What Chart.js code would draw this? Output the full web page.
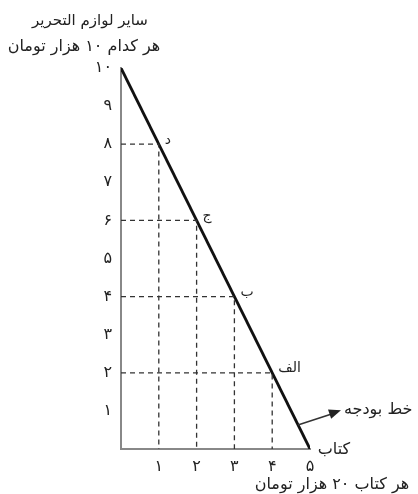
<!DOCTYPE html>
<html>
<head>
<meta charset="utf-8">
<script src="https://cdn.jsdelivr.net/npm/chart.js@4/dist/chart.umd.min.js"></script>
<style>
html,body{margin:0;padding:0;background:#fff;}
canvas{display:block;}
</style>
</head>
<body>
<canvas id="c" width="418" height="494"></canvas>
<script>
// ---- data ----
const bookQty = [1, 2, 3, 4];            // x of marked points (books)
const stationeryQty = [8, 6, 4, 2];      // y of marked points (stationery)
const pointNames = ['د', 'ج', 'ب', 'الف'];
const budgetX = [0, 5];
const budgetY = [10, 0];
const xTicks = [1, 2, 3, 4, 5];
const yTicks = [1, 2, 3, 4, 5, 6, 7, 8, 9, 10];
const persianDigits = ['۰','۱','۲','۳','۴','۵','۶','۷','۸','۹'];
const yTitle1 = 'سایر لوازم التحریر';
const yTitle2 = 'هر کدام ۱۰ هزار تومان';
const xTitle1 = 'کتاب';
const xTitle2 = 'هر کتاب ۲۰ هزار تومان';
const arrowLabel = 'خط بودجه';
const arrowFrom = {x: 4.68, y: 0.63};
const arrowTo = {x: 5.82, y: 1.02};

const toFa = n => String(n).split('').map(d => persianDigits[+d] ?? d).join('');
const FONT = '"DejaVu Sans", sans-serif';

const datasets = [];
bookQty.forEach((bx, i) => {
  datasets.push({
    data: [{x: 0, y: stationeryQty[i]}, {x: bx, y: stationeryQty[i]}, {x: bx, y: 0}],
    showLine: true, borderColor: '#333', borderWidth: 1.3, borderDash: [5, 4],
    pointRadius: 0, fill: false
  });
});
datasets.push({
  data: budgetX.map((x, i) => ({x, y: budgetY[i]})),
  showLine: true, borderColor: '#111', borderWidth: 2.8, pointRadius: 0, fill: false
});

const annot = {
  id: 'annot',
  afterDraw(chart) {
    const ctx = chart.ctx, xs = chart.scales.x, ys = chart.scales.y;
    ctx.save();
    ctx.fillStyle = '#222';
    ctx.direction = 'rtl';
    ctx.textBaseline = 'middle';
    // point labels
    ctx.font = '14px ' + FONT;
    ctx.textAlign = 'right';
    bookQty.forEach((bx, i) => {
      const px = xs.getPixelForValue(bx), py = ys.getPixelForValue(stationeryQty[i]);
      const w = ctx.measureText(pointNames[i]).width;
      ctx.fillText(pointNames[i], px + 6 + w, py - 4);
    });
    // axis titles
    ctx.textAlign = 'center';
    ctx.font = '15px ' + FONT;
    ctx.fillText(yTitle1, 90, 21);
    ctx.font = '16px ' + FONT;
    ctx.fillText(yTitle2, 84, 47);
    ctx.fillText(xTitle1, 334, 450);
    ctx.fillText(xTitle2, 332, 485);
    // arrow
    const ax = xs.getPixelForValue(arrowFrom.x), ay = ys.getPixelForValue(arrowFrom.y);
    const bx = xs.getPixelForValue(arrowTo.x), by = ys.getPixelForValue(arrowTo.y);
    ctx.strokeStyle = '#333'; ctx.lineWidth = 1.6;
    ctx.beginPath(); ctx.moveTo(ax, ay); ctx.lineTo(bx - 4, by + 2); ctx.stroke();
    const ang = Math.atan2(by - ay, bx - ax);
    ctx.beginPath();
    ctx.moveTo(bx, by);
    ctx.lineTo(bx - 13 * Math.cos(ang - 0.38), by - 13 * Math.sin(ang - 0.38));
    ctx.lineTo(bx - 13 * Math.cos(ang + 0.38), by - 13 * Math.sin(ang + 0.38));
    ctx.closePath(); ctx.fill();
    ctx.textAlign = 'right';
    const w = ctx.measureText(arrowLabel).width;
    ctx.fillText(arrowLabel, bx + 3 + w, by);
    ctx.restore();
  }
};

new Chart(document.getElementById('c'), {
  type: 'scatter',
  data: {datasets},
  options: {
    responsive: false, animation: false, devicePixelRatio: 1,
    layout: {padding: {left: 0, right: 108, top: 68, bottom: 0}},
    plugins: {legend: {display: false}, tooltip: {enabled: false}},
    scales: {
      x: {
        type: 'linear', min: 0, max: 5,
        afterFit: s => { s.height = 45; },
        afterBuildTicks: s => { s.ticks = xTicks.map(v => ({value: v})); },
        grid: {display: false, drawTicks: false},
        border: {display: true, color: '#888', width: 2},
        ticks: {padding: 8, color: '#222', font: {family: FONT, size: 16}, callback: v => toFa(v)}
      },
      y: {
        type: 'linear', min: 0, max: 10,
        afterFit: s => { s.width = 121; },
        afterBuildTicks: s => { s.ticks = yTicks.map(v => ({value: v})); },
        grid: {display: false, drawTicks: false},
        border: {display: true, color: '#888', width: 2},
        ticks: {padding: 9, color: '#222', font: {family: FONT, size: 16}, callback: v => toFa(v)}
      }
    }
  },
  plugins: [annot]
});
</script>
</body>
</html>
